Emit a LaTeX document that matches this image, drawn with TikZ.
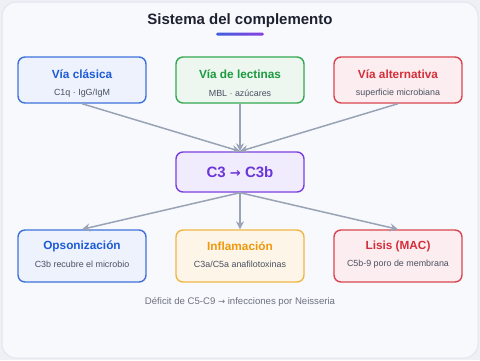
\documentclass[tikz,border=0pt]{standalone}
\usepackage{fontspec}
\setmainfont{Liberation Sans}
\newfontfamily\arrowfont{DejaVu Sans}
\usetikzlibrary{arrows.meta}
\definecolor{outerbg}{HTML}{EEF0F6}
\definecolor{cardbg}{HTML}{F8F9FD}
\definecolor{cardline}{HTML}{E2E5EE}
\definecolor{titlec}{HTML}{1E2230}
\definecolor{bluefill}{HTML}{EDF2FD}
\definecolor{blueline}{HTML}{3F72D9}
\definecolor{bluetext}{HTML}{1D5BD6}
\definecolor{greenfill}{HTML}{EDF7F0}
\definecolor{greenline}{HTML}{34A853}
\definecolor{greentext}{HTML}{1C9A3F}
\definecolor{redfill}{HTML}{FCEEF0}
\definecolor{redline}{HTML}{D9464F}
\definecolor{redtext}{HTML}{D42F3A}
\definecolor{purfill}{HTML}{F1ECFD}
\definecolor{purline}{HTML}{7B3FE0}
\definecolor{purtext}{HTML}{6B35D8}
\definecolor{orafill}{HTML}{FCF5E8}
\definecolor{oraline}{HTML}{F2B544}
\definecolor{oratext}{HTML}{F0980C}
\definecolor{subtext}{HTML}{4A5060}
\definecolor{arrowc}{HTML}{9AA3B5}
\definecolor{notec}{HTML}{6B7280}
\definecolor{gradA}{HTML}{3F5FE0}
\definecolor{gradB}{HTML}{8B3FE0}
\tikzset{
  box/.style={draw, rounded corners=7pt, line width=1.4pt, minimum width=128pt, inner sep=0pt},
  topbox/.style={box, minimum height=46pt},
  botbox/.style={box, minimum height=52pt},
  ttl/.style={font=\bfseries\fontsize{11.8}{13}\selectfont, inner sep=0pt},
  sub/.style={font=\fontsize{8.9}{10}\selectfont, text=subtext, inner sep=0pt},
  flow/.style={draw=arrowc, line width=1.5pt, -{Stealth[length=8pt,width=8pt]}}
}
\begin{document}
\begin{tikzpicture}[x=1pt,y=-1pt]
\useasboundingbox (0,0) rectangle (480,360);
\fill[outerbg] (0,0) rectangle (480,360);
\draw[cardline, fill=cardbg, line width=1pt, rounded corners=14pt] (2,2) rectangle (478,358);
\node[font=\bfseries\fontsize{15}{18}\selectfont, text=titlec, inner sep=0pt] (title) at (240,21) {Sistema del complemento};
\shade[left color=gradA, right color=gradB, rounded corners=1.5pt] (216,32.5) rectangle (264,35.5);
% top boxes
\node[topbox, draw=blueline, fill=bluefill] (cl) at (82,80) {};
\node[topbox, draw=greenline, fill=greenfill] (le) at (240,80) {};
\node[topbox, draw=redline, fill=redfill] (al) at (398,80) {};
\node[ttl, text=bluetext] (clT) at (82,74) {Vía clásica};
\node[sub] (clS) at (82,93) {C1q · IgG/IgM};
\node[ttl, text=greentext] (leT) at (240,74) {Vía de lectinas};
\node[sub] (leS) at (240,93) {MBL · azúcares};
\node[ttl, text=redtext] (alT) at (398,74) {Vía alternativa};
\node[sub] (alS) at (398,93) {superficie microbiana};
% center
\node[box, draw=purline, fill=purfill, minimum height=40pt] (c3) at (240,172) {};
\node[font=\bfseries\fontsize{15}{18}\selectfont, text=purtext, inner sep=0pt] (c3T) at (240,172) {C3 {\arrowfont\bfseries\fontsize{13}{15}\selectfont →} C3b};
% bottom boxes
\node[botbox, draw=blueline, fill=bluefill] (op) at (82,256) {};
\node[botbox, draw=oraline, fill=orafill] (in) at (240,256) {};
\node[botbox, draw=redline, fill=redfill] (li) at (398,256) {};
\node[ttl, text=bluetext] (opT) at (82,246) {Opsonización};
\node[sub] (opS) at (82,264) {C3b recubre el microbio};
\node[ttl, text=oratext] (inT) at (240,246) {Inflamación};
\node[sub] (inS) at (240,264) {C3a/C5a anafilotoxinas};
\node[ttl, text=redtext] (liT) at (398,246) {Lisis (MAC)};
\node[sub] (liS) at (398,264) {C5b-9 poro de membrana};
% arrows
\draw[flow] (cl.south) -- (c3.north);
\draw[flow] (le.south) -- (c3.north);
\draw[flow] (al.south) -- (c3.north);
\draw[flow] (c3.south) -- (op.north);
\draw[flow] (c3.south) -- (in.north);
\draw[flow] (c3.south) -- (li.north);
% note
\node[font=\fontsize{9.6}{11}\selectfont, text=notec, inner sep=0pt] (note) at (240,302) {Déficit de C5-C9 {\arrowfont\fontsize{8.5}{10}\selectfont →} infecciones por Neisseria};
\end{tikzpicture}
\end{document}
